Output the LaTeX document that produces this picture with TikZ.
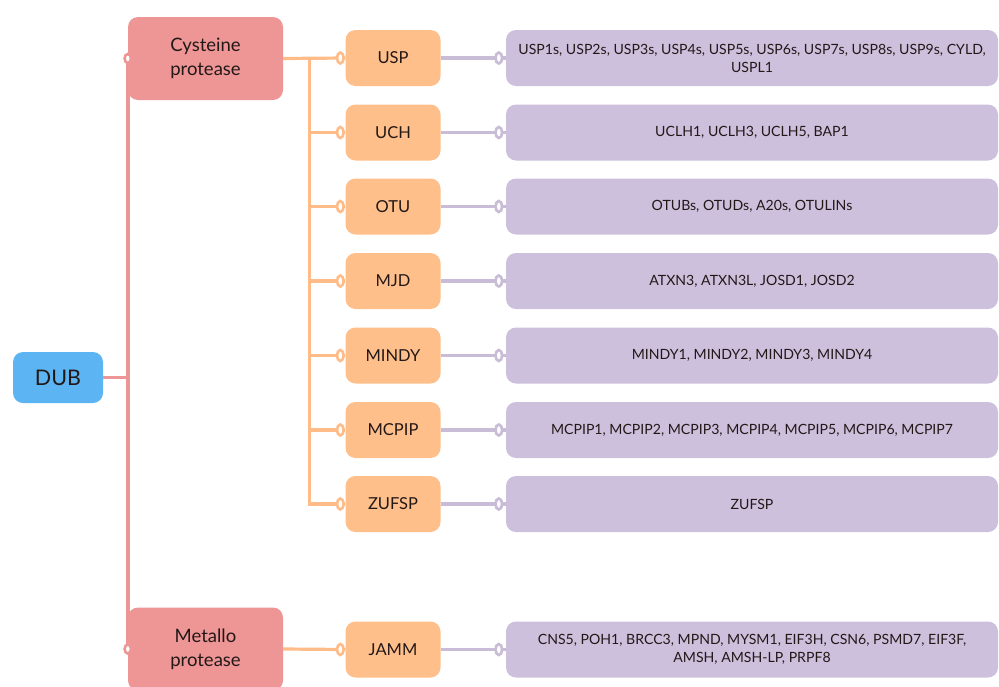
\documentclass[tikz,border=0pt]{standalone}
\usepackage{fontspec}
\setmainfont{Lato}
\usetikzlibrary{calc}
\definecolor{pinkc}{HTML}{EE9695}
\definecolor{orc}{HTML}{FFBF8A}
\definecolor{purc}{HTML}{CCC0DC}
\definecolor{bluec}{HTML}{5CB5F2}
\definecolor{pline}{HTML}{C8BCD6}
\definecolor{pkline}{HTML}{EE9695}
\definecolor{orline}{HTML}{FFBC88}
\definecolor{txt}{HTML}{231818}
\begin{document}
\begin{tikzpicture}[x=1pt,y=-1pt,
 box/.style={rounded corners=10pt, inner sep=0pt, text=txt, align=center},
 lvlzero/.style={box, fill=bluec, minimum width=90pt, minimum height=51pt, font=\fontsize{21.5}{24}\selectfont},
 lvlone/.style={box, fill=pinkc, minimum width=155pt, minimum height=83pt, font=\fontsize{18.5}{24}\selectfont},
 lvltwo/.style={box, fill=orc, minimum width=95pt, minimum height=56pt, font=\fontsize{16.5}{20}\selectfont},
 lvlthree/.style={box, fill=purc, minimum width=492pt, minimum height=56pt, font=\fontsize{14.1}{18}\selectfont},
 pkl/.style={draw=pkline, line width=3.5pt},
 orl/.style={draw=orline, line width=3.2pt},
 pul/.style={draw=pline, line width=3.5pt},
 ringpk/.style={draw=pkline, fill=white, line width=2.6pt},
 ringor/.style={draw=orline, fill=white, line width=2.6pt},
 ringpu/.style={draw=pline, fill=white, line width=2.6pt},
]
\useasboundingbox (0,0) rectangle (999,686);
\clip (0,0) rectangle (999,686);
\fill[white] (0,0) rectangle (999,686);

% nodes
\node[lvlzero] (dub) at (58,377.5) {DUB};
\node[lvlone] (cys) at (205.5,58.5) {Cysteine\\protease};
\node[lvlone] (met) at (205.5,649) {Metallo\\protease};

\node[lvltwo] (usp) at (393,58) {USP};
\node[lvltwo] (uch) at (393,132.5) {UCH};
\node[lvltwo] (otu) at (393,206.5) {OTU};
\node[lvltwo] (mjd) at (393,281) {MJD};
\node[lvltwo] (mindy) at (393,355.5) {MINDY};
\node[lvltwo] (mcpip) at (393,430) {MCPIP};
\node[lvltwo] (zufsp) at (393,504) {ZUFSP};
\node[lvltwo] (jamm) at (393,649.5) {JAMM};

\node[lvlthree] (uspl) at (752,58) {USP1s, USP2s, USP3s, USP4s, USP5s, USP6s, USP7s, USP8s, USP9s, CYLD,\\USPL1};
\node[lvlthree] (uchl) at (752,132.5) {UCLH1, UCLH3, UCLH5, BAP1};
\node[lvlthree] (otul) at (752,206.5) {OTUBs, OTUDs, A20s, OTULINs};
\node[lvlthree] (mjdl) at (752,281) {ATXN3, ATXN3L, JOSD1, JOSD2};
\node[lvlthree] (mindyl) at (752,355.5) {MINDY1, MINDY2, MINDY3, MINDY4};
\node[lvlthree] (mcpipl) at (752,430) {MCPIP1, MCPIP2, MCPIP3, MCPIP4, MCPIP5, MCPIP6, MCPIP7};
\node[lvlthree] (zufspl) at (752,504) {ZUFSP};
\node[lvlthree] (jamml) at (752,649.5) {CNS5, POH1, BRCC3, MPND, MYSM1, EIF3H, CSN6, PSMD7, EIF3F,\\AMSH, AMSH-LP, PRPF8};

% pink connectors
\draw[pkl] (cys.west) -- (met.west);
\draw[pkl] (dub.east) -- (dub.east -| cys.west);

% orange connectors
\coordinate (ob) at ($(cys.east)+(26,0)$);
\draw[orl] (cys.east) -- (usp.west);
\draw[orl] (ob) |- (uch.west);
\draw[orl] (ob) |- (otu.west);
\draw[orl] (ob) |- (mjd.west);
\draw[orl] (ob) |- (mindy.west);
\draw[orl] (ob) |- (mcpip.west);
\draw[orl] (ob) |- (zufsp.west);
\draw[orl] (met.east) -- (jamm.west);

% purple connectors
\foreach \a in {usp,uch,otu,mjd,mindy,mcpip,zufsp,jamm}
  \draw[pul] (\a.east) -- (\a l.west);

% rings
\draw[ringpk] (cys.west) ellipse [x radius=3.2pt, y radius=4.5pt];
\draw[ringpk] (met.west) ellipse [x radius=3.2pt, y radius=4.5pt];
\foreach \a in {usp,uch,otu,mjd,mindy,mcpip,zufsp,jamm}
  \draw[ringor] ([xshift=-5pt]\a.west) ellipse [x radius=3.3pt, y radius=5.5pt];
\foreach \a in {uspl,uchl,otul,mjdl,mindyl,mcpipl,zufspl,jamml}
  \draw[ringpu] ([xshift=-7pt]\a.west) ellipse [x radius=3.3pt, y radius=5.5pt];
\end{tikzpicture}
\end{document}
